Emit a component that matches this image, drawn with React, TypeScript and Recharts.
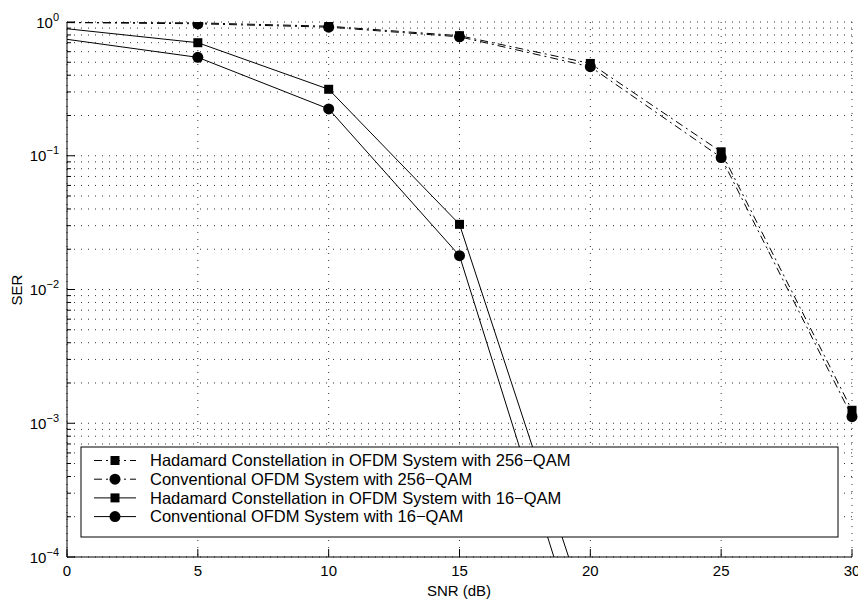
import React from 'react';
import { LineChart, Line, XAxis, YAxis, CartesianGrid, Customized } from 'recharts';

// SER versus SNR, read per 5 dB step
const snr = [0, 5, 10, 15, 20, 25, 30];
const hadamard256 = [0.995, 0.985, 0.93, 0.79, 0.49, 0.107, 0.00125];
const conventional256 = [0.99, 0.97, 0.915, 0.775, 0.463, 0.097, 0.00112];
const hadamard16 = [0.89, 0.7, 0.314, 0.0307, 0.000032, null, null];
const conventional16 = [0.742, 0.544, 0.224, 0.0179, 0.0000135, null, null];

const xTicks = [0, 5, 10, 15, 20, 25, 30];
const decades = [-4, -3, -2, -1];
const majorTicks = [1e-4, 1e-3, 1e-2, 1e-1, 1];

const legendItems = [
  { label: 'Hadamard Constellation in OFDM System with 256\u2212QAM', marker: 'square', dashed: true },
  { label: 'Conventional OFDM System with 256\u2212QAM', marker: 'circle', dashed: true },
  { label: 'Hadamard Constellation in OFDM System with 16\u2212QAM', marker: 'square', dashed: false },
  { label: 'Conventional OFDM System with 16\u2212QAM', marker: 'circle', dashed: false },
];

// log axis ticks: every integer multiple inside each decade
const yTicks: number[] = [];
decades.forEach((e) => {
  for (let m = 1; m <= 9; m++) yTicks.push(m * Math.pow(10, e));
});
yTicks.push(1);

const rows = snr.map((s, i) => ({
  snr: s,
  h256: hadamard256[i],
  c256: conventional256[i],
  h16: hadamard16[i],
  c16: conventional16[i],
}));

const W = 858;
const H = 595;
const FONT = '"Liberation Sans", Arial, Helvetica, sans-serif';
const DASH = '8 4 2 4';

const isMajor = (v: number) => majorTicks.some((m) => Math.abs(v - m) < m * 1e-9);

function BottomTick({ x, y, payload }: any) {
  return (
    <g>
      <line x1={x} y1={y} x2={x} y2={y - 8} stroke="#000" />
      <text x={x} y={y + 19} textAnchor="middle" fontSize={15} fontFamily={FONT} fill="#000">
        {payload.value}
      </text>
    </g>
  );
}

function TopTick({ x, y }: any) {
  return <line x1={x} y1={y} x2={x} y2={y + 8} stroke="#000" />;
}

function LeftTick({ x, y, payload }: any) {
  const v = payload.value as number;
  const major = isMajor(v);
  const exp = Math.round(Math.log10(v));
  return (
    <g>
      <line x1={x} y1={y} x2={x + (major ? 8 : 4)} y2={y} stroke="#000" />
      {major && (
        <text x={x - 8} y={y + 5.5} textAnchor="end" fontSize={15} fontFamily={FONT} fill="#000">
          10
          <tspan dy={-7} fontSize={11}>
            {exp === 0 ? '0' : '\u2212' + Math.abs(exp)}
          </tspan>
        </text>
      )}
    </g>
  );
}

function RightTick({ x, y, payload }: any) {
  const major = isMajor(payload.value);
  return <line x1={x} y1={y} x2={x - (major ? 8 : 4)} y2={y} stroke="#000" />;
}

// markers are placed from 5 dB on; the 0 dB point only anchors the line
function SquareDot({ cx, cy, index }: any) {
  if (cx == null || cy == null || index === 0) return <g key={index} />;
  return <rect key={index} x={cx - 4.5} y={cy - 4.5} width={9} height={9} fill="#000" />;
}

function CircleDot({ cx, cy, index }: any) {
  if (cx == null || cy == null || index === 0) return <g key={index} />;
  return <circle key={index} cx={cx} cy={cy} r={5.5} fill="#000" />;
}

function AxisTitles() {
  return (
    <g fontFamily={FONT} fontSize={15} fill="#000">
      <text x={451} y={588} textAnchor="middle">
        SNR (dB)
      </text>
      <text x={14} y={282} textAnchor="middle" transform="rotate(-90 14 282)">
        SER
      </text>
    </g>
  );
}

// legend sits on top of the plot, hiding the curves behind it
function LegendBox() {
  const left = 73;
  const top = 439;
  const right = 830;
  const bottom = 529;
  const rowStart = 452.5;
  const rowGap = 18.7;
  return (
    <svg width={W} height={H} style={{ position: 'absolute', left: 0, top: 0, pointerEvents: 'none' }}>
      <g fontFamily={FONT}>
        <rect x={left} y={top} width={right - left} height={bottom - top} fill="#fff" stroke="#000" strokeWidth={1} />
        {legendItems.map((item, i) => {
          const cy = rowStart + i * rowGap;
          return (
            <g key={item.label}>
              <line x1={86} y1={cy} x2={128} y2={cy} stroke="#000" strokeDasharray={item.dashed ? DASH : undefined} />
              {item.marker === 'square' ? (
                <rect x={102.5} y={cy - 4.5} width={9} height={9} fill="#000" />
              ) : (
                <circle cx={107} cy={cy} r={5.5} fill="#000" />
              )}
              <text x={142} y={cy + 5.8} fontSize={16.5} fill="#000">
                {item.label}
              </text>
            </g>
          );
        })}
      </g>
    </svg>
  );
}

export default function App() {
  return (
    <div style={{ position: 'relative', width: W, height: H, background: '#fff' }}>
      <LineChart width={W} height={H} data={rows} margin={{ top: 14, right: 14, bottom: 0, left: 0 }}>
        <CartesianGrid xAxisId="bottom" yAxisId="left" stroke="#333" strokeDasharray="1 6" />
        <XAxis
          xAxisId="bottom"
          dataKey="snr"
          type="number"
          domain={[0, 30]}
          ticks={xTicks}
          interval={0}
          height={46}
          tickSize={0}
          tickMargin={0}
          tickLine={false}
          tick={<BottomTick />}
          axisLine={{ stroke: '#000' }}
        />
        <XAxis
          xAxisId="top"
          orientation="top"
          dataKey="snr"
          type="number"
          domain={[0, 30]}
          ticks={xTicks}
          interval={0}
          height={0}
          tickSize={0}
          tickMargin={0}
          tickLine={false}
          tick={<TopTick />}
          axisLine={{ stroke: '#000' }}
        />
        <YAxis
          yAxisId="left"
          scale="log"
          domain={[1e-4, 1]}
          allowDataOverflow
          ticks={yTicks}
          interval={0}
          width={59}
          tickSize={0}
          tickMargin={0}
          tickLine={false}
          tick={<LeftTick />}
          axisLine={{ stroke: '#000' }}
        />
        <YAxis
          yAxisId="right"
          orientation="right"
          scale="log"
          domain={[1e-4, 1]}
          allowDataOverflow
          ticks={yTicks}
          interval={0}
          width={0}
          tickSize={0}
          tickMargin={0}
          tickLine={false}
          tick={<RightTick />}
          axisLine={{ stroke: '#000' }}
        />
        <Line xAxisId="bottom" yAxisId="left" type="linear" dataKey="h256" stroke="#000" strokeWidth={1} strokeDasharray={DASH} dot={<SquareDot />} activeDot={false} isAnimationActive={false} />
        <Line xAxisId="bottom" yAxisId="left" type="linear" dataKey="c256" stroke="#000" strokeWidth={1} strokeDasharray={DASH} dot={<CircleDot />} activeDot={false} isAnimationActive={false} />
        <Line xAxisId="bottom" yAxisId="left" type="linear" dataKey="h16" stroke="#000" strokeWidth={1} dot={<SquareDot />} activeDot={false} isAnimationActive={false} />
        <Line xAxisId="bottom" yAxisId="left" type="linear" dataKey="c16" stroke="#000" strokeWidth={1} dot={<CircleDot />} activeDot={false} isAnimationActive={false} />
        <Customized component={<AxisTitles />} />
      </LineChart>
      <LegendBox />
    </div>
  );
}
